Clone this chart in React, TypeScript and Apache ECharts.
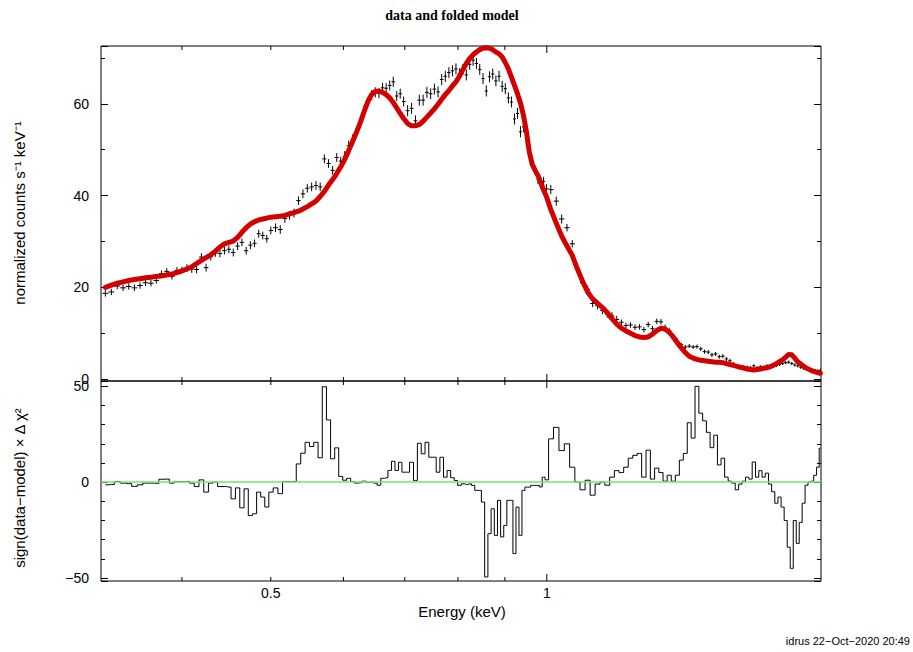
import React, { useEffect, useRef } from "react";
import * as echarts from "echarts";

// ---------------- data ----------------
// Segment A : 0.33 - 0.50 keV
const ENERGY_A = [0.330, 0.335, 0.340, 0.345, 0.350, 0.355, 0.360, 0.365, 0.370, 0.375, 0.380, 0.385, 0.390, 0.395, 0.400, 0.405, 0.410, 0.415, 0.420, 0.425, 0.430, 0.435, 0.440, 0.445, 0.450, 0.455, 0.460, 0.465, 0.470, 0.475, 0.480, 0.485, 0.490, 0.495, 0.500];
const COUNTS_A = [18.7, 19.0, 20.3, 19.9, 20.2, 19.9, 20.4, 21.0, 20.9, 21.5, 23.0, 23.5, 22.4, 23.7, 23.8, 24.2, 24.0, 23.9, 26.6, 24.3, 26.7, 27.5, 27.4, 28.0, 28.3, 27.6, 29.0, 29.8, 28.0, 29.2, 29.6, 31.7, 31.3, 30.6, 32.4];
const MODEL_A = [20.0, 20.5, 20.9, 21.2, 21.5, 21.7, 21.9, 22.1, 22.2, 22.4, 22.5, 22.7, 22.9, 23.2, 23.6, 24.0, 24.5, 25.2, 25.9, 26.5, 27.1, 27.9, 28.8, 29.5, 29.8, 30.1, 30.9, 32.0, 33.0, 33.8, 34.3, 34.7, 34.9, 35.1, 35.3];
const RESID_A = [-1.4, -1.2, 0.3, -0.5, -0.8, -2.2, -1.4, -0.5, -0.5, -0.6, 1.5, 1.6, -0.5, 0.3, 0.2, 0.4, -0.5, -2.3, 1.2, -5.2, -0.5, 0, -2.3, -2.3, -2.6, -8.7, -3, -13.4, -3.5, -17.4, -16.5, -5.2, -7.8, -13, -5.2];

// Segment B : 0.50 - 0.70 keV
const ENERGY_B = [0.506, 0.512, 0.518, 0.524, 0.530, 0.536, 0.542, 0.548, 0.554, 0.560, 0.566, 0.572, 0.578, 0.584, 0.590, 0.596, 0.602, 0.608, 0.614, 0.620, 0.626, 0.632, 0.638, 0.644, 0.650, 0.656, 0.662, 0.668, 0.674, 0.680, 0.686, 0.692, 0.698];
const COUNTS_B = [33.0, 32.6, 35.0, 35.7, 36.2, 38.9, 40.4, 41.6, 41.9, 42.2, 41.9, 48.0, 47.0, 45.5, 48.3, 47.5, 48.6, 50.9, 52.2, 53.7, 55.8, 58.6, 60.4, 61.9, 62.5, 62.3, 63.5, 63.4, 64.0, 64.8, 61.7, 62.2, 60.5];
const MODEL_B = [35.4, 35.5, 35.7, 36.0, 36.3, 36.6, 37.1, 37.6, 38.2, 38.8, 39.8, 40.9, 42.3, 43.5, 44.8, 46.3, 47.9, 49.8, 51.8, 53.8, 55.9, 58.3, 60.5, 62.0, 62.7, 62.8, 62.5, 62.0, 61.3, 60.3, 59.1, 57.9, 56.8];
const RESID_B = [-3, -6, 0.3, 0.3, 0.3, 9.5, 15.1, 20.8, 18.6, 20.8, 12.7, 49.8, 32.5, 12.2, 17.9, 3, 1, 2, 0.3, -0.5, -0.3, 0.5, -0.2, 0, -0.5, -1.6, 2, 2.3, 6.1, 10.9, 6.1, 10.4, 5.2];

// Segment C : 0.70 - 1.00 keV
const ENERGY_C = [0.705, 0.712, 0.719, 0.726, 0.733, 0.740, 0.747, 0.754, 0.761, 0.768, 0.775, 0.782, 0.789, 0.796, 0.803, 0.810, 0.817, 0.824, 0.831, 0.838, 0.845, 0.852, 0.859, 0.866, 0.873, 0.880, 0.887, 0.894, 0.901, 0.908, 0.915, 0.922, 0.929, 0.936, 0.943, 0.950, 0.957, 0.964, 0.971, 0.978, 0.985, 0.992, 0.999];
const COUNTS_C = [58.5, 59.0, 56.3, 60.8, 60.8, 62.5, 62.2, 63.2, 62.6, 65.3, 66.0, 66.8, 67.2, 67.6, 66.5, 67.5, 66.3, 68.6, 69.5, 68.8, 67.5, 65.5, 62.8, 65.9, 66.5, 65.0, 66.0, 63.8, 63.3, 61.3, 60.4, 56.7, 57.9, 53.9, 55.0, 52.1, 49.5, 47.5, 45.5, 43.5, 42.5, 43.1, 41.5];
const MODEL_C = [55.7, 55.2, 55.2, 55.5, 56.2, 57.1, 58.0, 58.9, 59.9, 61.0, 62.0, 62.9, 63.9, 64.8, 66.0, 67.5, 68.8, 69.9, 70.7, 71.3, 71.8, 72.1, 72.2, 72.1, 71.8, 71.3, 70.9, 70.2, 69.0, 67.6, 65.8, 64.0, 62.2, 60.2, 57.5, 54.0, 49.5, 46.8, 45.5, 44.4, 42.8, 41.2, 39.8];
const RESID_C = [5.2, 10.4, 0.9, 20.3, 14.8, 20.8, 13, 13, 5.2, 13, 2.6, 6.1, 2.3, 0.9, -1.7, -0.9, -1.2, -0.9, -1.7, -4.3, -4.3, -10.4, -49.5, -26.9, -13.9, -27.8, -9.5, -28.6, -22.6, -9.5, -9.5, -37.3, -13, -27.8, -4.3, -2.6, -2.6, -1.7, -1.7, -1.7, -2.5, 2.6, 1.2];

// Segment D : 1.00 - 2.00 keV
const ENERGY_D = [1.010, 1.024, 1.038, 1.052, 1.066, 1.080, 1.094, 1.108, 1.122, 1.136, 1.150, 1.164, 1.178, 1.192, 1.206, 1.220, 1.234, 1.248, 1.262, 1.276, 1.290, 1.304, 1.318, 1.332, 1.346, 1.360, 1.374, 1.388, 1.402, 1.416, 1.430, 1.444, 1.458, 1.472, 1.486, 1.500, 1.514, 1.528, 1.542, 1.556, 1.570, 1.584, 1.598, 1.612, 1.626, 1.640, 1.654, 1.668, 1.682, 1.696, 1.710, 1.724, 1.738, 1.752, 1.766, 1.780, 1.794, 1.808, 1.822, 1.836, 1.850, 1.864, 1.878, 1.892, 1.906, 1.920, 1.934, 1.948, 1.962, 1.976, 1.988];
const COUNTS_D = [41.3, 38.8, 34.9, 33.0, 29.5, 24.0, 21.0, 19.6, 16.5, 16.0, 15.0, 14.2, 13.8, 13.0, 12.4, 11.7, 11.8, 11.3, 11.4, 10.8, 11.9, 11.0, 12.6, 12.5, 11.3, 10.6, 8.8, 8.3, 7.5, 7.0, 7.2, 7.0, 7.1, 6.6, 6.0, 5.9, 5.3, 5.5, 4.9, 5.0, 4.4, 4.0, 3.3, 2.9, 2.7, 2.7, 2.6, 2.5, 2.9, 2.5, 2.7, 2.6, 2.9, 2.6, 2.8, 3.0, 3.2, 3.4, 3.6, 3.7, 3.4, 3.1, 2.9, 2.6, 2.4, 2.3, 2.1, 1.9, 1.9, 1.8, 1.9];
const MODEL_D = [37.0, 34.0, 31.2, 29.0, 27.0, 24.0, 21.3, 19.0, 17.5, 16.5, 15.6, 14.5, 13.2, 12.0, 11.1, 10.5, 10.0, 9.5, 9.2, 9.1, 9.2, 9.8, 10.6, 11.1, 10.9, 10.2, 9.2, 7.9, 6.8, 5.8, 5.0, 4.6, 4.3, 4.1, 4.0, 3.9, 3.8, 3.7, 3.7, 3.6, 3.4, 3.2, 3.0, 2.8, 2.6, 2.4, 2.2, 2.1, 2.0, 2.1, 2.2, 2.4, 2.5, 2.7, 3.0, 3.4, 3.8, 4.2, 4.8, 5.4, 5.3, 4.6, 3.8, 3.3, 2.8, 2.4, 2.1, 1.8, 1.6, 1.4, 1.3];
const RESID_D = [22.6, 28.6, 16.5, 20, 7.8, 0, -4, 1, -6.8, -1, 0, -1.6, 2.6, 6, 5, 7.8, 12.5, 14, 15, 2.6, 16.7, 1.6, 7.3, 5, 0.5, 3.6, 0.5, 3.6, 11.5, 15, 31, 23, 50, 36, 32, 26, 18, 24.5, 9, 12.5, 2.6, 0.5, -0.5, -4, -1, 0.5, 2.6, 1.6, 10.5, 2.6, 6, 2.6, 4.7, -1, -5, -11, -7.8, -13, -20, -34, -45, -20, -32, -21, -11, -1.6, 0, 0.5, 3.6, 7.8, 17.7];

// 1-sigma error bar half-lengths (counts), looked up by energy band upper edge
const ERR_BAND_E = [0.40, 0.50, 0.60, 0.70, 0.95, 1.05, 1.20, 1.40, 1.60, 2.00];
const ERR_BAND_SIZE = [0.7, 0.85, 0.95, 1.1, 1.2, 1.0, 0.8, 0.6, 0.45, 0.35];

// axes
const X_MIN = 0.3264;
const X_MAX = 1.991;
const TOP_Y_MIN = -0.4;
const TOP_Y_MAX = 72.6;
const BOT_Y_MIN = -51.6;
const BOT_Y_MAX = 52.8;
const X_TICKS = [0.4, 0.5, 0.6, 0.7, 0.8, 0.9, 1];
const X_MAJOR_TICKS = [1];
const X_TICK_LABELS = [0.5, 1];
const TOP_LABEL_STEP = 20;
const TOP_TICK_STEP = 10;
const BOT_LABEL_STEP = 50;
const BOT_TICK_STEP = 10;

const FONT = '"Liberation Sans", Arial, Helvetica, sans-serif';

// ---------------- build ----------------
const energies = [...ENERGY_A, ...ENERGY_B, ...ENERGY_C, ...ENERGY_D];
const counts = [...COUNTS_A, ...COUNTS_B, ...COUNTS_C, ...COUNTS_D];
const model = [...MODEL_A, ...MODEL_B, ...MODEL_C, ...MODEL_D];
const resid = [...RESID_A, ...RESID_B, ...RESID_C, ...RESID_D];

function errAt(e: number): number {
  for (let i = 0; i < ERR_BAND_E.length; i++) if (e <= ERR_BAND_E[i]) return ERR_BAND_SIZE[i];
  return ERR_BAND_SIZE[ERR_BAND_SIZE.length - 1];
}

const crossData = energies.map((e, i) => {
  const lw = i > 0 ? (e - energies[i - 1]) / 2 : (energies[1] - e) / 2;
  const rw = i < energies.length - 1 ? (energies[i + 1] - e) / 2 : lw;
  const s = errAt(e);
  return [e, counts[i], e - lw, e + rw, counts[i] - s, counts[i] + s];
});

const fmtNum = (v: number) => (v < 0 ? "\u2212" + Math.abs(v) : String(v));

function yAxis(gridIndex: number, min: number, max: number, position: string, step: number, tickLen: number, labelStep: number | null) {
  return {
    type: "value",
    gridIndex,
    min,
    max,
    position,
    minInterval: step,
    maxInterval: step,
    splitNumber: 5,
    axisLine: { show: false },
    splitLine: { show: false },
    axisTick: { show: true, inside: true, length: tickLen, lineStyle: { color: "#000", width: 1 } },
    axisLabel: labelStep
      ? {
          show: true,
          margin: 12,
          color: "#000",
          fontSize: 14,
          fontFamily: FONT,
          formatter: (v: number) => (Math.abs(v % labelStep) < 1e-6 ? fmtNum(Math.round(v)) : ""),
        }
      : { show: false },
  };
}

function xAxis(gridIndex: number) {
  return {
    type: "log",
    logBase: 10,
    gridIndex,
    min: X_MIN,
    max: X_MAX,
    axisLine: { show: false },
    axisTick: { show: false },
    axisLabel: { show: false },
    splitLine: { show: false },
    minorTick: { show: false },
  };
}

function tickSeries(xi: number, yi: number) {
  return {
    type: "custom",
    xAxisIndex: xi,
    yAxisIndex: yi,
    silent: true,
    clip: false,
    z: 6,
    data: X_TICKS.map((v) => [v, X_MAJOR_TICKS.indexOf(v) >= 0 ? 1 : 0]),
    encode: { x: 0, y: 1 },
    renderItem: (params: any, api: any) => {
      const cs = params.coordSys;
      const x = api.coord([api.value(0), 0])[0];
      const len = api.value(1) ? 7 : 4;
      const top = cs.y;
      const bot = cs.y + cs.height;
      const st = { stroke: "#000", lineWidth: 1 };
      return {
        type: "group",
        children: [
          { type: "line", shape: { x1: x, y1: bot, x2: x, y2: bot - len }, style: st },
          { type: "line", shape: { x1: x, y1: top, x2: x, y2: top + len }, style: st },
        ],
      };
    },
  };
}

const option: any = {
  animation: false,
  backgroundColor: "#fff",
  grid: [
    { left: 101, top: 46, width: 720, height: 335, show: true, borderColor: "#000", borderWidth: 1, backgroundColor: "transparent" },
    { left: 101, top: 381, width: 720, height: 200, show: true, borderColor: "#000", borderWidth: 1, backgroundColor: "transparent" },
  ],
  xAxis: [xAxis(0), xAxis(1)],
  yAxis: [
    yAxis(0, TOP_Y_MIN, TOP_Y_MAX, "left", TOP_LABEL_STEP, 7, TOP_LABEL_STEP),
    yAxis(0, TOP_Y_MIN, TOP_Y_MAX, "left", TOP_TICK_STEP, 4, null),
    yAxis(0, TOP_Y_MIN, TOP_Y_MAX, "right", TOP_LABEL_STEP, 7, null),
    yAxis(0, TOP_Y_MIN, TOP_Y_MAX, "right", TOP_TICK_STEP, 4, null),
    yAxis(1, BOT_Y_MIN, BOT_Y_MAX, "left", BOT_LABEL_STEP, 7, BOT_LABEL_STEP),
    yAxis(1, BOT_Y_MIN, BOT_Y_MAX, "left", BOT_TICK_STEP, 4, null),
    yAxis(1, BOT_Y_MIN, BOT_Y_MAX, "right", BOT_LABEL_STEP, 7, null),
    yAxis(1, BOT_Y_MIN, BOT_Y_MAX, "right", BOT_TICK_STEP, 4, null),
  ],
  series: [
    {
      name: "data",
      type: "custom",
      xAxisIndex: 0,
      yAxisIndex: 0,
      clip: true,
      z: 2,
      data: crossData,
      encode: { x: 0, y: 1 },
      renderItem: (params: any, api: any) => {
        const c = api.coord([api.value(0), api.value(1)]);
        const l = api.coord([api.value(2), api.value(1)]);
        const r = api.coord([api.value(3), api.value(1)]);
        const lo = api.coord([api.value(0), api.value(4)]);
        const hi = api.coord([api.value(0), api.value(5)]);
        const st = { stroke: "#000", lineWidth: 1 };
        return {
          type: "group",
          children: [
            { type: "line", shape: { x1: l[0], y1: c[1], x2: r[0], y2: c[1] }, style: st },
            { type: "line", shape: { x1: c[0], y1: lo[1], x2: c[0], y2: hi[1] }, style: st },
          ],
        };
      },
    },
    {
      name: "model",
      type: "line",
      xAxisIndex: 0,
      yAxisIndex: 0,
      z: 4,
      clip: false,
      showSymbol: false,
      symbol: "none",
      data: energies.map((e, i) => [e, model[i]]),
      lineStyle: { color: "#d40000", width: 5, cap: "round", join: "round" },
    },
    {
      name: "residuals",
      type: "line",
      xAxisIndex: 1,
      yAxisIndex: 4,
      step: "middle",
      z: 3,
      showSymbol: false,
      symbol: "none",
      data: energies.map((e, i) => [e, resid[i]]),
      lineStyle: { color: "#000", width: 1 },
      markLine: {
        silent: true,
        symbol: ["none", "none"],
        label: { show: false },
        lineStyle: { color: "#6fe86f", width: 1.5, type: "solid" },
        data: [{ yAxis: 0 }],
      },
    },
    tickSeries(0, 0),
    tickSeries(1, 4),
    {
      type: "custom",
      xAxisIndex: 1,
      yAxisIndex: 4,
      silent: true,
      clip: false,
      data: X_TICK_LABELS.map((v) => [v, 0]),
      encode: { x: 0, y: 1 },
      renderItem: (params: any, api: any) => {
        const cs = params.coordSys;
        const x = api.coord([api.value(0), 0])[0];
        return {
          type: "text",
          x,
          y: cs.y + cs.height + 5,
          style: {
            text: String(api.value(0)),
            font: "14px " + FONT,
            fill: "#000",
            textAlign: "center",
            textVerticalAlign: "top",
            align: "center",
            verticalAlign: "top",
          },
        };
      },
    },
  ],
  graphic: [
    {
      type: "text",
      x: 452,
      y: 15,
      style: { text: "data and folded model", font: 'bold 14px "Liberation Serif", "Times New Roman", serif', fill: "#000", textAlign: "center", textVerticalAlign: "middle", align: "center", verticalAlign: "middle" },
    },
    {
      type: "text",
      x: 19,
      y: 213,
      rotation: Math.PI / 2,
      style: { text: "normalized counts s\u207B\u00B9 keV\u207B\u00B9", font: "15px " + FONT, fill: "#000", textAlign: "center", textVerticalAlign: "middle", align: "center", verticalAlign: "middle" },
    },
    {
      type: "text",
      x: 19,
      y: 488,
      rotation: Math.PI / 2,
      style: { text: "sign(data\u2212model) \u00D7 \u0394 \u03C7\u00B2", font: "15px " + FONT, fill: "#000", textAlign: "center", textVerticalAlign: "middle", align: "center", verticalAlign: "middle" },
    },
    {
      type: "text",
      x: 462,
      y: 611,
      style: { text: "Energy (keV)", font: "15px " + FONT, fill: "#000", textAlign: "center", textVerticalAlign: "middle", align: "center", verticalAlign: "middle" },
    },
    {
      type: "text",
      x: 910,
      y: 641,
      style: { text: "idrus 22\u2212Oct\u22122020 20:49", font: "11px " + FONT, fill: "#000", textAlign: "right", textVerticalAlign: "middle", align: "right", verticalAlign: "middle" },
    },
  ],
};

export default function App() {
  const ref = useRef<HTMLDivElement>(null);
  useEffect(() => {
    if (!ref.current) return;
    const chart = echarts.init(ref.current, null, { renderer: "svg" });
    chart.setOption(option);
    return () => chart.dispose();
  }, []);
  return <div ref={ref} style={{ position: "fixed", left: 0, top: 0, width: 913, height: 652, background: "#fff" }} />;
}
